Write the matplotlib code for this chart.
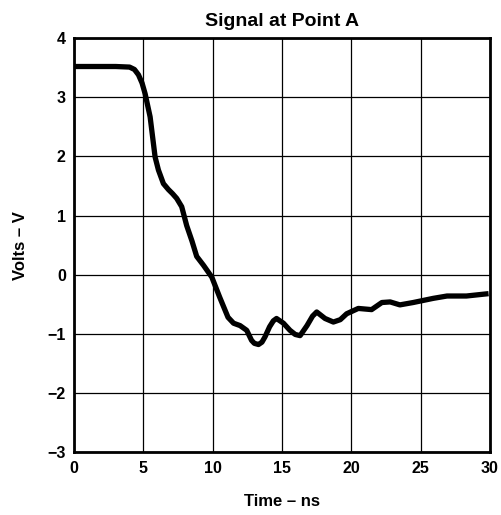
import matplotlib
matplotlib.use("Agg")
import matplotlib.pyplot as plt

time_ns = [0, 1, 2, 3, 4.0, 4.35, 4.64, 4.9, 5.12, 5.48, 5.84, 6.08, 6.44, 6.8, 7.1, 7.4,
           7.76, 8.12, 8.5, 8.84, 9.33, 9.93, 10.5, 11.1, 11.5, 11.97, 12.45, 12.8, 13.0,
           13.3, 13.55, 13.77, 14.1, 14.37, 14.6, 15.1, 15.57, 15.95, 16.3, 16.8, 17.2,
           17.5, 18.1, 18.7, 19.2, 19.66, 20.5, 21.46, 22.2, 22.8, 23.5, 24.46, 25.9,
           26.9, 28.3, 29.9]
volts = [3.52, 3.52, 3.52, 3.52, 3.51, 3.47, 3.38, 3.24, 3.06, 2.67, 1.99, 1.77, 1.54, 1.44,
         1.37, 1.29, 1.15, 0.83, 0.57, 0.31, 0.16, -0.04, -0.38, -0.72, -0.82, -0.86, -0.94,
         -1.11, -1.16, -1.18, -1.14, -1.05, -0.88, -0.78, -0.74, -0.82, -0.94, -1.01, -1.03,
         -0.86, -0.70, -0.63, -0.74, -0.80, -0.76, -0.66, -0.57, -0.59, -0.47, -0.46, -0.51,
         -0.47, -0.40, -0.36, -0.36, -0.32]
x_ticks = [0, 5, 10, 15, 20, 25, 30]
y_ticks = [-3, -2, -1, 0, 1, 2, 3, 4]

plt.rcParams['font.family'] = ['Liberation Sans', 'DejaVu Sans']
fig = plt.figure(figsize=(5.01, 5.15), dpi=100)
ax = fig.add_axes([0.148, 0.122, 0.830, 0.804])
ax.plot(time_ns, volts, color='black', linewidth=3.8, solid_capstyle='butt', solid_joinstyle='round')
ax.set_xlim(0, 30)
ax.set_ylim(-3, 4)
ax.set_xticks(x_ticks)
ax.set_yticks(y_ticks)
ax.grid(True, color='black', linewidth=0.9)
ax.tick_params(length=0, labelsize=11.5, pad=6)
for lab in ax.get_xticklabels() + ax.get_yticklabels():
    lab.set_fontweight('bold')
for s in ax.spines.values():
    s.set_linewidth(2)
ax.set_xlabel('Time – ns', fontsize=12, fontweight='bold', labelpad=13)
ax.set_ylabel('Volts – V', fontsize=12, fontweight='bold', labelpad=14)
ax.set_title('Signal at Point A', fontsize=14, fontweight='bold', pad=9)
fig.savefig('out.png', dpi=100)
